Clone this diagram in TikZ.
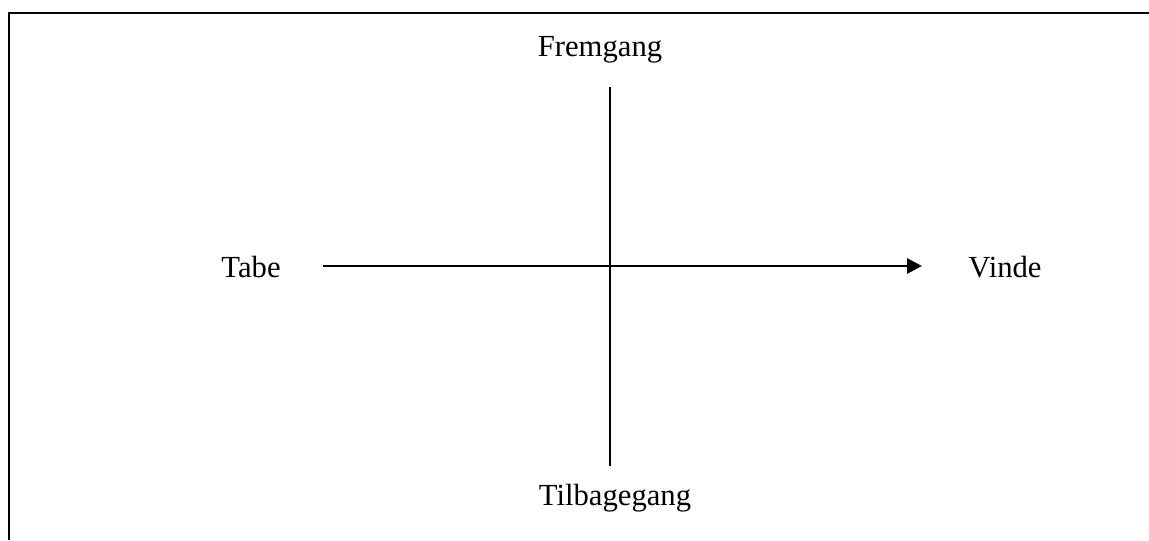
\documentclass[tikz,border=0pt]{standalone}
\usepackage{fontspec}
\setmainfont{Liberation Serif}
\usetikzlibrary{arrows.meta}
\begin{document}
\begin{tikzpicture}[x=0.75pt,y=-0.75pt,
  frame/.style={line width=1.8pt},
  axis/.style={line width=2.1pt},
  lbl/.style={font=\fontsize{23}{27}\selectfont, anchor=base, inner sep=0pt}]
\useasboundingbox (0,0) rectangle (1149,540);
% frame (top and left only)
\coordinate (tl) at (9,13);
\coordinate (tr) at (1149,13);
\coordinate (bl) at (9,540);
\draw[frame] (tr) -- (tl) -- (bl);
% axes
\coordinate (vtop) at (610,87);
\coordinate (vbot) at (610,466);
\coordinate (hl) at (323,266);
\coordinate (hr) at (922,266);
\draw[axis] (vtop) -- (vbot);
\draw[axis,-{Triangle[length=11.25pt,width=11.25pt]}] (hl) -- (hr);
% labels
\node[lbl] (fremgang) at (600,56) {Fremgang};
\node[lbl] (tilbage) at (615,505) {Tilbagegang};
\node[lbl] (tabe) at (251,277) {Tabe};
\node[lbl] (vinde) at (1005,277) {Vinde};
\end{tikzpicture}
\end{document}
